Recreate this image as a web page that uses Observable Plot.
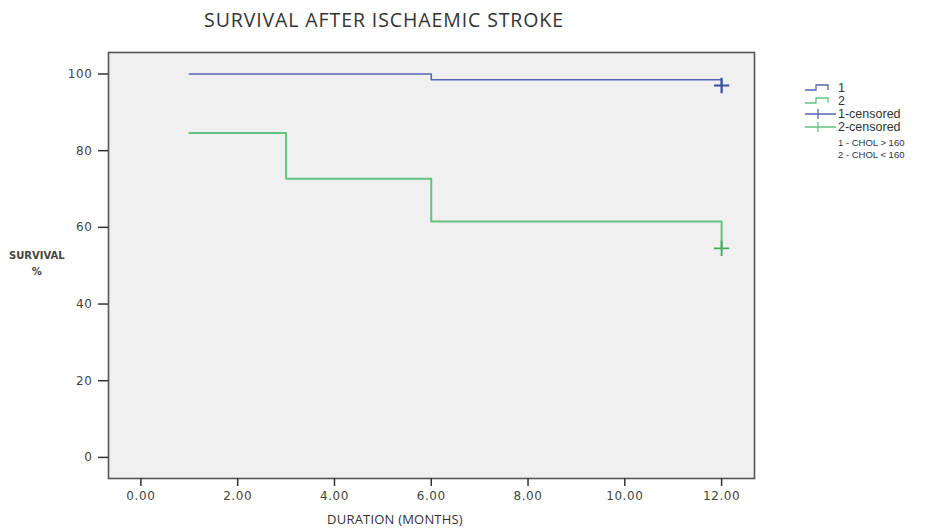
<!DOCTYPE html>
<html>
<head>
<meta charset="utf-8">
<script src="https://cdn.jsdelivr.net/npm/d3@7"></script>
<script src="https://cdn.jsdelivr.net/npm/@observablehq/plot@0.6"></script>
<style>
  html, body { margin: 0; padding: 0; background: #fff; }
  #wrap { position: relative; width: 933px; height: 530px; overflow: hidden; }
  #chart { position: absolute; left: 0; top: 0; }
  .lbl { position: absolute; font-family: "Open Sans", sans-serif; color: #333; white-space: nowrap; }
  #title { left: 384px; top: 6px; transform: translateX(-50%); font-size: 19.5px; letter-spacing: 0.9px; }
  #xlab { left: 395px; top: 510px; transform: translateX(-50%); font-size: 13px; letter-spacing: 0.2px; }
  #ylab { left: 9px; top: 248px; font-family: "DejaVu Sans", sans-serif; font-size: 10px; font-weight: bold; text-align: center; line-height: 16px; color: #444; }
  #legend { position: absolute; left: 804px; top: 82px; font-family: "Liberation Sans", Arial, sans-serif; font-size: 12.5px; color: #333; }
  #legend .row { display: flex; align-items: center; height: 12.8px; }
  #legend svg { margin-right: 2px; }
  #legend .note { font-size: 9.5px; margin-left: 34px; height: 11.5px; line-height: 11.5px; }
</style>
</head>
<body>
<div id="wrap">
  <div id="chart"></div>
  <div id="title" class="lbl">SURVIVAL AFTER ISCHAEMIC STROKE</div>
  <div id="xlab" class="lbl">DURATION (MONTHS)</div>
  <div id="ylab" class="lbl">SURVIVAL<br>%</div>
  <div id="legend"></div>
</div>
<script>
// Group 1 (CHOL > 160)
const months1 = [1, 6, 12];
const survival1 = [100, 98.5, 97];
const censored1Months = [12];
const censored1Survival = [97];
// Group 2 (CHOL < 160)
const months2 = [1, 3, 6, 12];
const survival2 = [84.6, 72.7, 61.5, 54.5];
const censored2Months = [12];
const censored2Survival = [54.5];

const xTicks = [0, 2, 4, 6, 8, 10, 12];
const yTicks = [0, 20, 40, 60, 80, 100];
const groupLabels = ["1", "2", "1-censored", "2-censored"];
const groupNotes = ["1 - CHOL > 160", "2 - CHOL < 160"];

const blue = "#5467b3";
const green = "#62c47f";
const blueDark = "#3c4f9e";
const greenDark = "#45a862";

const g1 = months1.map((m, i) => ({month: m, surv: survival1[i]}));
const g2 = months2.map((m, i) => ({month: m, surv: survival2[i]}));
const c1 = censored1Months.map((m, i) => ({month: m, surv: censored1Survival[i]}));
const c2 = censored2Months.map((m, i) => ({month: m, surv: censored2Survival[i]}));

const chart = Plot.plot({
  width: 933,
  height: 530,
  marginLeft: 108,
  marginRight: 179,
  marginTop: 52,
  marginBottom: 52,
  style: {fontFamily: "DejaVu Sans, sans-serif", fontSize: "12px", color: "#444", background: "#fff", letterSpacing: "0.6px"},
  x: {domain: [-0.67, 12.68], ticks: xTicks, tickFormat: d => d.toFixed(2), label: null},
  y: {domain: [-5.5, 105.6], ticks: yTicks, label: null},
  marks: [
    Plot.frame({fill: "#f0f0f0", stroke: null}),
    Plot.line(g1, {x: "month", y: "surv", curve: "step-after", stroke: blue, strokeWidth: 1.6}),
    Plot.line(g2, {x: "month", y: "surv", curve: "step-after", stroke: green, strokeWidth: 2}),
    Plot.dot(c1, {x: "month", y: "surv", symbol: "plus", r: 5, stroke: blueDark, strokeWidth: 2.2}),
    Plot.dot(c2, {x: "month", y: "surv", symbol: "plus", r: 5, stroke: greenDark, strokeWidth: 1.8}),
    Plot.frame({stroke: "#555", strokeWidth: 1.6}),
    Plot.axisX({ticks: xTicks, tickFormat: d => d.toFixed(2), tickSize: 8, tickPadding: 5, stroke: "#333", strokeWidth: 1.5, fill: "#444", label: null}),
    Plot.axisY({ticks: yTicks, tickSize: 10, tickPadding: 6, stroke: "#333", strokeWidth: 1.5, fill: "#444", label: null})
  ]
});
document.getElementById("chart").appendChild(chart);

// Legend
const legend = document.getElementById("legend");
const legendColors = [blue, green, blue, green];
groupLabels.forEach((lab, i) => {
  const row = document.createElement("div");
  row.className = "row";
  const isStep = i < 2;
  const path = isStep
    ? `<path d="M1,7 H12 V2 H24 V7" fill="none" stroke="${legendColors[i]}" stroke-width="1.3"/>`
    : `<path d="M1,5 H32 M14,0 V10" fill="none" stroke="${legendColors[i]}" stroke-width="1.3"/>`;
  row.innerHTML = `<svg width="32" height="10">${path}</svg><span>${lab}</span>`;
  legend.appendChild(row);
});
const spacer = document.createElement("div");
spacer.style.height = "4px";
legend.appendChild(spacer);
groupNotes.forEach(n => {
  const d = document.createElement("div");
  d.className = "note";
  d.textContent = n;
  legend.appendChild(d);
});
</script>
</body>
</html>
